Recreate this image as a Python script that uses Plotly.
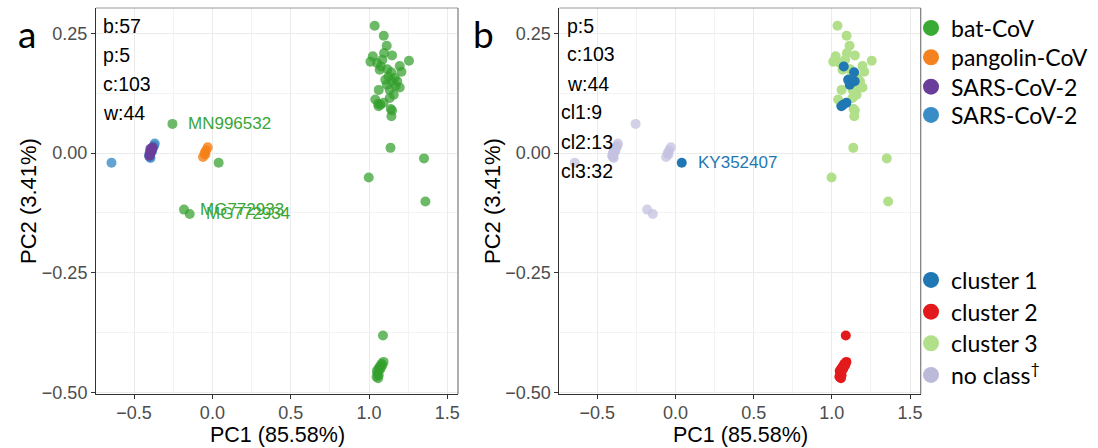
import plotly.graph_objects as go

# ---------------- data ----------------
# bat-CoV points: x, y, cluster (1,2,3; 0 = no class)
bat_x = [1.036, 1.094, 1.113, 1.096, 1.147, 1.024, 1.009, 1.255, 1.051, 1.068,
         1.117, 1.196, 1.207, 1.164, 1.196, 1.062, 1.132, 1.158, 1.132, 1.040,
         1.058, 1.139, 1.147, 1.143, 1.125, 1.180, 1.085, 1.170,
         1.137, 1.351, 0.998, 1.360,
         1.076, 1.142, 1.114, 1.146, 1.072, 1.093, 1.061, 1.104, 0.040,
         1.089, 1.093, 1.080, 1.070, 1.060, 1.050, 1.055, 1.062, 1.048, 1.070,
         1.085, 1.058, 1.075,
         -0.255, -0.181, -0.145]
bat_y = [0.266, 0.245, 0.224, 0.209, 0.204, 0.202, 0.191, 0.193, 0.188, 0.174,
         0.175, 0.182, 0.170, 0.157, 0.137, 0.132, 0.132, 0.122, 0.115, 0.112,
         0.103, 0.092, 0.089, 0.077, 0.160, 0.150, 0.195, 0.140,
         0.011, -0.011, -0.051, -0.101,
         0.181, 0.169, 0.143, 0.150, 0.101, 0.105, 0.098, 0.153, -0.020,
         -0.381, -0.436, -0.440, -0.445, -0.450, -0.455, -0.460, -0.464, -0.467, -0.452,
         -0.443, -0.470, -0.448,
         0.061, -0.118, -0.127]
bat_cluster = [3] * 32 + [1] * 9 + [2] * 13 + [0] * 3

pang_x = [-0.060, -0.050, -0.040, -0.030, -0.045]
pang_y = [-0.008, 0.000, 0.006, 0.012, -0.003]

sarsc_x = [-0.400, -0.395, -0.390, -0.385, -0.398, -0.392, -0.388, -0.402, -0.380, -0.396]
sarsc_y = [0.000, 0.005, 0.008, 0.010, -0.004, 0.002, 0.006, -0.006, 0.012, 0.009]

sarsw_x = [-0.644, -0.368, -0.372, -0.378, -0.400, -0.405, -0.395, -0.385]
sarsw_y = [-0.020, 0.020, 0.016, 0.012, -0.008, -0.005, -0.010, 0.004]

labels_a = ["MN996532", "MG772933", "MG772934"]
labels_a_x = [-0.255, -0.181, -0.145]
labels_a_y = [0.061, -0.118, -0.127]
label_b = "KY352407"
label_b_x, label_b_y = 0.040, -0.020

counts_a = ["b:57", "p:5", "c:103", "w:44"]
counts_b = ["p:5", "c:103", "w:44", "cl1:9", "cl2:13", "cl3:32"]

legend_names = ["bat-CoV", "pangolin-CoV", "SARS-CoV-2", "SARS-CoV-2",
                "cluster 1", "cluster 2", "cluster 3", "no class<sup>†</sup>"]

x_ticks = [-0.5, 0.0, 0.5, 1.0, 1.5]
y_ticks = [-0.50, -0.25, 0.00, 0.25]

# ---------------- styling ----------------
W, H = 1098, 448
C_BAT = "#33a02c"
C_PANG = "#f57f17"
C_SC = "#6a3d9a"
C_SW = "#3a8cc6"
C_CL1 = "#1f78b4"
C_CL2 = "#e31a1c"
C_CL3 = "#b2df8a"
C_NC = "#c4c1e0"
legend_colors = ["#3aaa35", "#f58220", "#6a3d9a", "#3a8cc6",
                 C_CL1, C_CL2, C_CL3, "#bcbad9"]
legend_centers = [28, 57.3, 86.7, 115, 280, 311.7, 343.3, 375]

TICKFONT = dict(family="Liberation Sans, Arial", size=18, color="#4d4d4d")
TXTFONT = dict(family="Liberation Sans, Arial", size=19.5, color="black")
TITLEFONT = dict(family="Liberation Sans, Arial", size=21.5, color="black")

fig = go.Figure()
MS = 10

# panel a
fig.add_trace(go.Scatter(x=bat_x, y=bat_y, mode="markers", name="bat-CoV", showlegend=False,
                         marker=dict(size=MS, color=C_BAT, opacity=0.72), xaxis="x", yaxis="y"))
fig.add_trace(go.Scatter(x=pang_x, y=pang_y, mode="markers", name="pangolin-CoV", showlegend=False,
                         marker=dict(size=MS, color=C_PANG, opacity=0.8), xaxis="x", yaxis="y"))
fig.add_trace(go.Scatter(x=sarsw_x, y=sarsw_y, mode="markers", name="SARS-CoV-2", showlegend=False,
                         marker=dict(size=MS, color=C_SW, opacity=0.8), xaxis="x", yaxis="y"))
fig.add_trace(go.Scatter(x=sarsc_x, y=sarsc_y, mode="markers", name="SARS-CoV-2", showlegend=False,
                         marker=dict(size=MS, color=C_SC, opacity=0.8), xaxis="x", yaxis="y"))

# panel b
def sel(cl):
    xs = [x for x, c in zip(bat_x, bat_cluster) if c == cl]
    ys = [y for y, c in zip(bat_y, bat_cluster) if c == cl]
    return xs, ys

nx, ny = sel(0)
nx = nx + pang_x + sarsc_x + sarsw_x
ny = ny + pang_y + sarsc_y + sarsw_y
fig.add_trace(go.Scatter(x=nx, y=ny, mode="markers", name="no class", showlegend=False,
                         marker=dict(size=MS, color=C_NC, opacity=0.75), xaxis="x2", yaxis="y2"))
x3, y3 = sel(3)
fig.add_trace(go.Scatter(x=x3, y=y3, mode="markers", name="cluster 3", showlegend=False,
                         marker=dict(size=MS, color=C_CL3), xaxis="x2", yaxis="y2"))
x2, y2 = sel(2)
fig.add_trace(go.Scatter(x=x2, y=y2, mode="markers", name="cluster 2", showlegend=False,
                         marker=dict(size=MS, color=C_CL2), xaxis="x2", yaxis="y2"))
x1, y1 = sel(1)
fig.add_trace(go.Scatter(x=x1, y=y1, mode="markers", name="cluster 1", showlegend=False,
                         marker=dict(size=MS, color=C_CL1), xaxis="x2", yaxis="y2"))

# legend entries (one legend box per entry so the spacing matches)
legend_layouts = {}
for k, (nm, col, cy) in enumerate(zip(legend_names, legend_colors, legend_centers)):
    lid = "legend" if k == 0 else f"legend{k + 1}"
    fig.add_trace(go.Scatter(x=[None], y=[None], mode="markers", name=nm, showlegend=True,
                             marker=dict(size=16, color=col), xaxis="x2", yaxis="y2", legend=lid))
    legend_layouts[lid] = dict(x=911 / W, y=1 - cy / H, xanchor="left", yanchor="middle",
                               bgcolor="rgba(0,0,0,0)", itemclick=False, itemdoubleclick=False,
                               font=dict(family="Lato", size=23, color="black"))

xd1 = [96 / W, 458 / W]
xd2 = [559.3 / W, 920.7 / W]
yd = [1 - 394 / H, 1 - 8 / H]
xr = [-0.743, 1.568]
yr = [-0.503, 0.303]

def xax(dom, anchor):
    return dict(domain=dom, range=xr, anchor=anchor, tickvals=x_ticks, tickformat=".1f",
                showgrid=True, gridcolor="#ebebeb", gridwidth=1.4,
                minor=dict(dtick=0.25, tick0=0, showgrid=True, gridcolor="#f3f3f3", gridwidth=1),
                zeroline=False, showline=True, linecolor="#333333", linewidth=1,
                ticks="outside", ticklen=4, tickcolor="#333333", tickfont=TICKFONT,
                ticklabelstandoff=-2, automargin=False)

def yax(anchor):
    return dict(domain=yd, range=yr, anchor=anchor, tickvals=y_ticks, tickformat=".2f",
                showgrid=True, gridcolor="#ebebeb", gridwidth=1.4,
                minor=dict(dtick=0.125, tick0=0, showgrid=True, gridcolor="#f3f3f3", gridwidth=1),
                zeroline=False, showline=True, linecolor="#333333", linewidth=1,
                ticks="outside", ticklen=4, tickcolor="#333333", tickfont=TICKFONT,
                automargin=False)

ann = []
# counts text
for i, t in enumerate(counts_a):
    ann.append(dict(x=101 / W, y=1 - (26 + 29 * i) / H, xref="paper", yref="paper",
                    text=t, showarrow=False, xanchor="left", yanchor="middle", font=TXTFONT))
bx = [565, 565, 565, 559.3, 559.3, 559.3]
for i, t in enumerate(counts_b):
    ann.append(dict(x=bx[i] / W, y=1 - (25.5 + 29 * i) / H, xref="paper", yref="paper",
                    text=t, showarrow=False, xanchor="left", yanchor="middle", font=TXTFONT))
# point labels
for t, lx, ly in zip(labels_a, labels_a_x, labels_a_y):
    ann.append(dict(x=lx, y=ly, xref="x", yref="y", text=t, showarrow=False,
                    xanchor="left", yanchor="middle", xshift=14,
                    font=dict(family="Liberation Sans, Arial", size=17, color="#3aa637")))
ann.append(dict(x=label_b_x, y=label_b_y, xref="x2", yref="y2", text=label_b, showarrow=False,
                xanchor="left", yanchor="middle", xshift=14,
                font=dict(family="Liberation Sans, Arial", size=17, color=C_CL1)))
# axis titles
for cx in [277, 740]:
    ann.append(dict(x=cx / W, y=0, xref="paper", yref="paper", text="PC1 (85.58%)",
                    showarrow=False, xanchor="center", yanchor="bottom", borderpad=0,
                    font=TITLEFONT))
for cx in [28, 492]:
    ann.append(dict(x=cx / W, y=1 - 201 / H, xref="paper", yref="paper", text="PC2 (3.41%)",
                    showarrow=False, xanchor="center", yanchor="middle", textangle=-90,
                    font=dict(family="Liberation Sans, Arial", size=22, color="black")))
# panel letters
ann.append(dict(x=16 / W, y=1 - 33 / H, xref="paper", yref="paper", text="a", showarrow=False,
                xanchor="left", yanchor="middle", font=dict(family="Lato", size=37, color="black")))
ann.append(dict(x=471 / W, y=1 - 33 / H, xref="paper", yref="paper", text="b", showarrow=False,
                xanchor="left", yanchor="middle", font=dict(family="Lato", size=37, color="black")))

shapes = []
for xa, ya in [("x", "y"), ("x2", "y2")]:
    shapes.append(dict(type="line", xref=f"{xa} domain", yref=f"{ya} domain",
                       x0=0, x1=1, y0=1, y1=1, line=dict(color="#9a9a9a", width=1)))
    shapes.append(dict(type="line", xref=f"{xa} domain", yref=f"{ya} domain",
                       x0=1, x1=1, y0=0, y1=1, line=dict(color="#7a7a7a", width=1.2)))

fig.update_layout(
    width=W, height=H, margin=dict(l=0, r=0, t=0, b=0, autoexpand=False),
    paper_bgcolor="white", plot_bgcolor="white",
    xaxis=xax(xd1, "y"), yaxis=yax("x"),
    xaxis2=xax(xd2, "y2"), yaxis2=yax("x2"),
    annotations=ann, shapes=shapes,
    **legend_layouts,
)

fig.write_html("out.html")
